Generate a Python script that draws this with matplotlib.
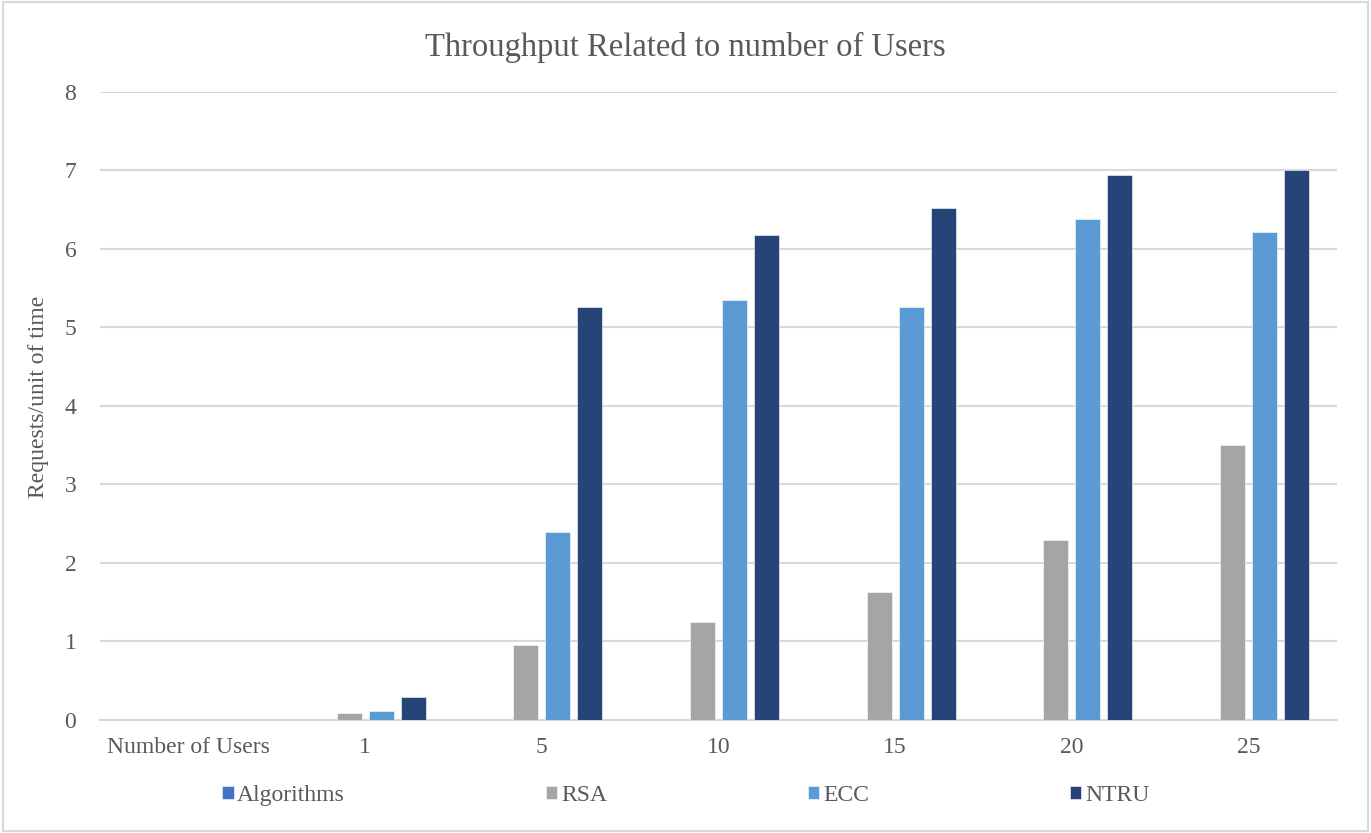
import numpy as np
import matplotlib
matplotlib.use('Agg')
from matplotlib import pyplot as plt
from matplotlib.patches import Rectangle

categories = ['Number of Users', '1', '5', '10', '15', '20', '25']
series_names = ['Algorithms', 'RSA', 'ECC', 'NTRU']
algorithms = [0, 0, 0, 0, 0, 0, 0]
rsa = [0, 0.09, 0.95, 1.25, 1.63, 2.29, 3.50]
ecc = [0, 0.11, 2.39, 5.35, 5.26, 6.38, 6.21]
ntru = [0, 0.29, 5.26, 6.18, 6.52, 6.94, 7.00]

colors = ['#4472C4', '#A5A5A5', '#5B9BD5', '#264478']
TEXT = '#595959'
GRID = '#D9D9D9'

plt.rcParams['font.family'] = ['Liberation Serif', 'DejaVu Serif']

fig = plt.figure(figsize=(13.71, 8.33), dpi=100)
ax = fig.add_axes([0.0729, 0.1357, 0.9023, 0.7539])

x = np.arange(len(categories))
width = 0.1415
step = 0.181
for i, (name, vals) in enumerate(zip(series_names, [algorithms, rsa, ecc, ntru])):
    ax.bar(x + (i - 1.5) * step, vals, width, color=colors[i], label=name,
           edgecolor='white', linewidth=0.4, zorder=3)

ax.set_xlim(-0.5, len(categories) - 0.5)
ax.set_ylim(0, 8)
ax.set_yticks(range(0, 9))
ax.set_xticks(x, categories)
ax.grid(axis='y', color=GRID, linewidth=1.5, zorder=0)
ax.tick_params(length=0, labelsize=17, labelcolor=TEXT)
ax.tick_params(axis='x', pad=12)
ax.tick_params(axis='y', pad=17)
for side in ['top', 'right', 'left']:
    ax.spines[side].set_visible(False)
ax.spines['bottom'].set_color(GRID)
ax.spines['bottom'].set_linewidth(1.5)

ax.set_ylabel('Requests/unit of time', fontsize=17, color=TEXT)
ax.yaxis.set_label_coords(-0.041, 0.515)
fig.suptitle('Throughput Related to number of Users', fontsize=23.5, color=TEXT, y=0.962)

fig.legend(loc='center', bbox_to_anchor=(0.5, 0.045), ncol=4, frameon=False,
           fontsize=17, labelcolor=TEXT, handlelength=0.5, handleheight=0.5,
           handletextpad=0.15, columnspacing=8.5)

fig.patches.append(Rectangle((0.002, 0.002), 0.996, 0.996, transform=fig.transFigure,
                             fill=False, edgecolor='#D9D9D9', linewidth=1.5))

fig.savefig('out.png', dpi=100, facecolor='white')
